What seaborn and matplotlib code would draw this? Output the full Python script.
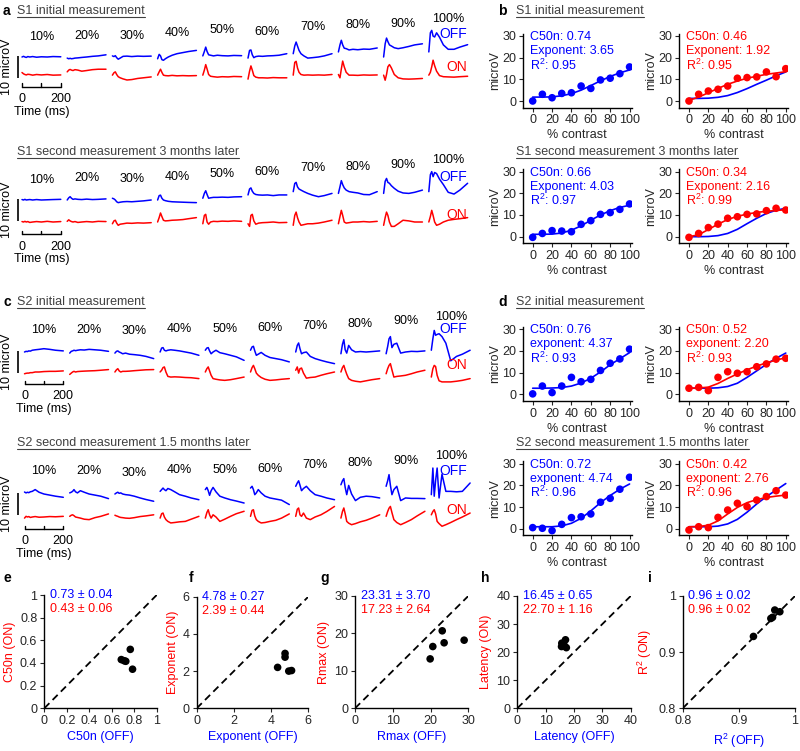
import numpy as np
import pandas as pd
import matplotlib
matplotlib.use('Agg')
import matplotlib.pyplot as plt
import seaborn as sns
from matplotlib.lines import Line2D

sns.set_theme(style='white')
plt.rcParams['font.family'] = ['Liberation Sans', 'DejaVu Sans']
plt.rcParams['mathtext.fontset'] = 'custom'
plt.rcParams['mathtext.rm'] = 'Liberation Sans'
plt.rcParams['mathtext.it'] = 'Liberation Sans:italic'
plt.rcParams['mathtext.bf'] = 'Liberation Sans:bold'
plt.rcParams['axes.edgecolor'] = 'black'
plt.rcParams['text.color'] = '#262626'

# ---------------------------------------------------------------- data
CONTRAST_LABELS = ['10%', '20%', '30%', '40%', '50%', '60%', '70%', '80%', '90%', '100%']
TRACE_T = [0, 8, 15, 22, 30, 40, 55, 75, 100, 130, 160, 200]   # ms

S1A_TR_OFF = [
    [0, 0.3, 0, -0.2, 0.2, 0, 0.2, -0.1, 0.1, 0, 0.2, 0.1],
    [-0.5, -0.8, -0.6, -0.8, -0.7, -0.5, -0.4, -0.2, 0.0, 0.3, 0.5, 1.0],
    [0.5, 0.2, 0.6, -0.3, -1.0, -0.5, 0.3, 0.4, 0.2, 0.4, 0.3, 0.4],
    [-0.8, 1.2, 0.5, -1.2, -1.5, -0.8, 0, 0.8, 1.5, 2.0, 2.5, 3.0],
    [0.5, 2.5, 4.5, 2.5, 1.0, 0.8, 0.5, 0.8, 0.6, 0.5, 0.7, 0.6],
    [-0.5, 3.0, 3.2, 1.0, -0.3, 0.2, 0.4, 0.3, 0.5, 0.6, 0.8, 1.5],
    [1.5, 5.0, 6.8, 5.0, 3.0, 1.5, 0.5, -0.5, -0.3, 0.0, 0.5, 1.5],
    [2.3, 5.5, 7.6, 5.5, 4.0, 3.8, 3.2, 3.5, 3.3, 3.6, 3.5, 4.1],
    [0, 6.0, 8.6, 7.0, 5.5, 5.0, 4.2, 3.8, 4.2, 4.8, 5.5, 6.0],
    [2.3, 11.0, 12.1, 9.5, 9.1, 11.0, 9.0, 5.5, 3.5, 3.5, 4.5, 5.6],
]
S1A_TR_ON = [
    [0.9, 0.3, 0, -0.2, 0.1, 0, -0.3, 0, -0.2, 0, -0.3, -0.2],
    [1.2, 2.0, 2.3, 2.0, 1.8, 2.2, 2.0, 1.5, 1.8, 2.2, 2.4, 2.4],
    [-0.3, 0.8, 1.2, 0, -1.0, -1.5, -2.0, -2.5, -2.3, -1.8, -1.5, -1.1],
    [-0.3, 1.2, 2.4, 1.0, -0.3, -0.5, -0.6, -0.4, -0.6, -0.5, -0.6, -0.5],
    [-0.3, 2.0, 4.5, 2.5, 0, -0.8, -1.0, -1.2, -1.0, -1.1, -0.9, -1.0],
    [-2.1, 1.5, 3.9, 2.0, -0.5, -1.2, -1.5, -1.5, -1.6, -1.4, -1.5, -1.5],
    [-0.3, 5.5, 6.0, 3.0, 1.0, 0, -0.3, -0.2, -0.3, -0.2, -0.3, 0],
    [0, -1.5, 2.5, 6.1, 3.5, 1.0, -0.3, -0.3, -0.4, -0.2, -0.3, -0.2],
    [-0.3, -2.6, 0, 3.5, 4.5, 3.0, 0, -1.5, -2.0, -2.1, -2.0, -1.8],
    [-0.3, 1.0, 3.5, 6.5, 4.0, 1.5, -0.5, -1.0, -1.1, -1.2, -1.0, -0.8],
]
S1B_TR_OFF = [
    [0.2, 0, 0.3, 0, 0.1, 0.2, 0, 0.2, 0, 0.1, 0.2, 0.3],
    [0, 1.0, 1.5, 0.8, 0.3, 0.5, 0.3, 0.2, 0.4, 0.2, 0.3, 0.5],
    [0.8, 0.5, 0, -0.8, -1.2, -1.0, -0.8, -0.7, -0.8, -0.6, -0.4, 0],
    [0, 2.0, 2.2, 0.8, 0, -0.3, -0.6, -0.8, -0.9, -1.0, -1.1, -1.2],
    [0.8, 3.0, 4.2, 2.5, 0.8, 1.0, 1.2, 1.2, 1.3, 1.2, 1.4, 1.5],
    [2.3, 5.0, 5.5, 4.0, 3.0, 2.5, 2.3, 2.2, 2.3, 2.0, 2.3, 2.3],
    [3.8, 7.5, 8.0, 6.0, 5.0, 4.5, 3.8, 3.0, 2.2, 1.5, 2.0, 3.0],
    [3.0, 6.0, 8.8, 7.0, 5.5, 4.5, 3.8, 3.5, 3.2, 2.5, 2.4, 3.8],
    [3.0, 8.5, 9.8, 8.0, 7.6, 6.5, 5.3, 4.0, 3.2, 3.0, 3.5, 4.5],
    [3.8, 11.5, 12.9, 10.6, 12.5, 12.0, 9.5, 7.0, 3.5, 2.7, 4.5, 7.6],
]
S1B_TR_ON = [
    [0.2, 0, 0.3, 0, 0.2, -0.2, 0, 0.2, 0, 0.3, 0, 0.2],
    [0.3, 1.0, 0.5, 0.2, 0, 0.2, -0.2, 0, 0.2, 0, 0.3, 0.2],
    [-0.8, 0.5, 0.8, -0.5, -1.5, -1.0, -0.8, -0.5, -0.6, -0.4, -0.5, -0.3],
    [0, 2.0, 4.1, 2.5, 0.8, 0.5, 0.6, 0.8, 0.9, 1.1, 1.5, 2.0],
    [-0.8, 3.0, 3.5, 0, -1.0, 0, 0.3, 0.2, 0.4, 0.3, 0.5, 0.3],
    [-0.8, -2.0, 3.0, 3.5, 0.5, -1.0, -0.5, -0.3, -0.2, 0, -0.3, -0.2],
    [-1.5, 3.0, 4.5, 2.0, 0, -1.5, -1.2, -0.8, -0.8, -0.5, 0, 0.8],
    [-0.8, 2.5, 5.3, 3.0, 0, -0.5, -0.3, 0, 0, 0.2, 0, 0.3],
    [-1.5, 2.0, 4.5, 3.0, 0, -2.0, -2.0, -0.8, 0.8, 0.5, 0, 0],
    [0, 2.5, 5.3, 3.0, 0, -1.5, -1.0, 0, 0.8, 1.2, 1.5, 2.0],
]
S2A_TR_OFF = [
    [0, 0.3, 0.2, 0.5, 0.4, 0.8, 1.0, 1.2, 1.5, 1.2, 0.8, 0.5],
    [-0.5, 0.3, 0.5, 0.8, 0.6, 0.8, 1.0, 0.9, 1.2, 1.0, 0.8, 0.3],
    [-0.5, 0.3, 0.5, 0, -0.3, -0.8, -0.5, -1.0, -1.2, -1.5, -2.0, -3.0],
    [0, 1.8, 2.0, 0.8, 0.5, 0.8, 1.0, 0.8, 0.5, 0, -0.5, -1.5],
    [0.8, 1.8, 2.0, 0.5, -0.8, 0, 0.8, -0.3, -0.8, -1.5, -2.2, -3.8],
    [0.8, 2.3, 2.6, 0.5, -1.5, -1.0, -0.2, -1.5, -2.5, -3.0, -3.5, -4.5],
    [0, 3.0, 4.1, 1.5, -0.8, -0.3, 0, -2.0, -3.0, -3.8, -4.5, -5.3],
    [-0.8, 3.5, 5.6, 1.0, -0.5, 3.0, 1.0, 0, 0.2, 0, 0.2, 0.5],
    [-0.8, 2.5, 6.0, 7.0, 2.0, 3.5, 4.0, -0.5, 0, 0.3, 0.2, 0.5],
    [0.8, 6.0, 9.8, 7.6, 8.0, 8.3, 7.0, 4.0, -4.0, -2.0, -1.0, 0.8],
]
S2A_TR_ON = [
    [-0.8, -0.6, -0.5, -0.5, -0.3, -0.3, 0, 0, 0.2, 0.3, 0.3, 0.5],
    [-1.1, -0.5, 0, 0.3, 0, 0.2, 0.3, 0.4, 0.5, 0.6, 0.8, 1.1],
    [0, 1.0, 1.5, 0.5, 0, 0.3, 0.3, 0.4, 0.6, 0.8, 1.0, 1.1],
    [0, 0.8, 2.0, 2.3, 0, -2.0, -2.3, -2.2, -2.3, -2.5, -2.6, -3.0],
    [0, 1.5, 2.3, 0.5, -1.5, -3.0, -3.3, -3.6, -3.8, -3.5, -3.0, -2.3],
    [0, 2.0, 3.0, 1.5, -0.5, -1.5, -2.5, -3.3, -3.8, -3.6, -3.3, -3.0],
    [0.8, 2.3, -0.5, 1.5, 1.8, -0.5, -2.8, -2.5, -2.3, -1.5, -0.8, 0],
    [0, 2.0, 3.0, 1.0, -1.0, -3.0, -3.8, -4.2, -4.5, -4.0, -3.5, -3.0],
    [-0.8, 1.5, 3.0, 3.8, 1.0, -2.3, -2.0, -1.8, -1.5, -0.8, 0, 0.8],
    [-2.3, 1.5, 3.0, 2.5, -1.5, -4.0, -4.5, -4.5, -4.5, -4.2, -3.8, -3.0],
]
S2B_TR_OFF = [
    [0.9, 0.5, 0.8, 0.6, 1.0, 1.2, 2.0, 0.8, 0, -0.5, -1.0, -1.5],
    [0.5, 0.8, 1.2, 2.0, 1.0, 0.5, 1.5, 0.8, 0, -0.5, -1.0, -2.1],
    [0, 0.5, 0.8, 0.3, 0.5, 0, -0.3, -0.5, -1.0, -1.8, -2.5, -3.3],
    [1.2, 2.0, 2.7, 2.0, 1.5, 2.5, 2.0, 1.0, -0.3, -1.0, -1.8, -2.6],
    [2.0, 3.0, 1.5, -0.6, 1.5, 3.0, 1.0, -1.0, -1.8, -2.6, -3.2, -4.1],
    [2.7, 3.5, 2.0, -0.3, 0.5, 2.0, 0.5, -1.0, -1.8, -2.3, -2.8, -4.8],
    [3.5, 5.0, 6.0, 4.0, 1.5, 2.5, 3.5, 1.5, -0.3, -1.0, -1.8, -2.6],
    [4.2, 6.0, 7.0, 3.0, -0.3, 3.9, 0, -3.0, -1.5, -1.0, -1.2, -1.8],
    [3.5, 6.0, 8.8, 4.0, -0.3, 2.0, 3.5, -3.0, -1.8, -2.0, -2.0, -2.1],
    [-0.3, 11.8, -1.0, 6.0, 11.8, -1.8, 9.0, 1.2, 1.2, 1.0, 1.2, 5.0],
]
S2B_TR_ON = [
    [-0.5, 0.3, 0, 0.2, -0.2, 0, 0.2, -0.1, 0, 0.2, 0.1, 0.3],
    [0.3, 0.8, 1.0, 0.6, 0, -0.2, -0.5, -1.0, -1.2, -0.3, 0.3, 1.4],
    [0.8, 0.5, 0.3, 0, -0.2, -0.3, -0.5, -0.6, -0.3, 0.2, 0.5, 1.0],
    [-0.5, 1.5, 1.8, 0, -1.2, -2.0, -2.7, -2.5, -2.2, -2.0, -1.0, 0.3],
    [-0.5, 2.0, 3.3, 1.0, -0.5, 1.0, 0, -2.0, -1.0, 0.3, 1.5, 2.6],
    [0.3, 3.0, 3.3, 0.5, -1.2, -2.0, -2.7, -2.5, -2.0, -1.5, -0.5, 1.4],
    [0.3, 3.5, 4.1, 1.0, 0.3, 1.8, -0.5, -1.2, 0, 1.0, 2.5, 4.8],
    [-0.5, 2.5, 4.1, 1.5, -2.0, -2.8, -3.5, -3.0, -2.2, -1.5, -0.5, 1.0],
    [0.3, 2.5, 4.0, 4.8, 2.0, -1.2, -2.5, -3.5, -2.5, -1.2, 0.5, 2.6],
    [1.0, 2.5, 3.3, 1.5, -2.0, -3.0, -4.2, -3.5, -2.5, -1.2, 0, 1.8],
]

CONTRAST = [0, 10, 20, 30, 40, 50, 60, 70, 80, 90, 100]

S1A_OFF_PTS = [0, 3.1, 1.5, 3.5, 3.8, 6.9, 5.8, 9.7, 10.5, 12.6, 15.7]
S1A_OFF_FIT = [1.8, 1.8, 1.9, 2.4, 3.4, 5.0, 7.1, 9.3, 11.3, 13.0, 14.3]
S1A_ON_PTS = [0, 3.1, 4.6, 5.4, 6.9, 10.5, 10.8, 11.1, 13.4, 11.2, 14.9]
S1A_ON_FIT = [0.3, 1.8, 3.8, 5.8, 7.7, 9.2, 10.5, 11.4, 12.3, 12.9, 13.5]
S1A_OFF_FIT_ON = [1.2, 1.2, 1.3, 1.7, 2.5, 3.9, 5.7, 7.7, 9.6, 11.6, 13.4]

S1B_OFF_PTS = [-0.3, 1.5, 2.8, 2.6, 2.3, 5.7, 7.4, 10.3, 11.1, 12.6, 15.1]
S1B_OFF_FIT = [1.1, 1.1, 1.2, 1.7, 3.0, 5.0, 7.6, 10.0, 12.0, 13.5, 14.5]
S1B_ON_PTS = [-0.3, 1.5, 4.2, 5.8, 8.5, 9.2, 10.3, 10.5, 12.0, 13.1, 12.3]
S1B_ON_FIT = [0, 0.9, 3.3, 5.8, 7.9, 9.4, 10.4, 11.2, 11.7, 12.1, 12.4]
S1B_OFF_FIT_ON = [0, 0, 0.1, 0.5, 1.5, 3.4, 6.0, 8.5, 10.7, 12.2, 13.1]

S2A_OFF_PTS = [0.2, 3.8, 0.8, 3.8, 7.8, 5.8, 6.9, 11.0, 14.3, 16.3, 20.8]
S2A_OFF_FIT = [2.8, 2.8, 2.9, 3.1, 3.8, 5.2, 7.4, 10.3, 13.6, 16.4, 19.2]
S2A_ON_PTS = [2.8, 3.2, 1.7, 7.8, 10.4, 9.7, 10.4, 12.7, 14.0, 16.2, 16.6]
S2A_ON_FIT = [2.8, 2.9, 3.3, 5.0, 7.3, 9.4, 11.3, 13.0, 14.5, 15.8, 16.8]
S2A_OFF_FIT_ON = [2.8, 2.8, 2.8, 3.0, 3.6, 5.1, 7.8, 10.8, 13.8, 16.6, 19.0]

S2B_OFF_PTS = [0.5, 0.2, -0.9, 2.0, 5.1, 5.5, 6.8, 12.2, 14.0, 18.2, 23.7]
S2B_OFF_FIT = [0.9, 0.9, 0.9, 1.3, 2.5, 4.8, 8.2, 12.0, 15.3, 18.2, 20.6]
S2B_ON_PTS = [-0.6, 0.9, 0.5, 5.2, 8.6, 11.7, 10.2, 13.2, 14.8, 17.5, 15.5]
S2B_ON_FIT = [0.9, 1.0, 1.6, 3.6, 6.8, 9.8, 12.0, 13.4, 14.4, 15.0, 15.5]
S2B_OFF_FIT_ON = [0.9, 0.9, 0.9, 1.2, 2.2, 4.3, 7.6, 11.4, 14.8, 17.8, 20.8]

S1A_OFF_TXT = ['C50n: 0.74', 'Exponent: 3.65', 'R$^2$: 0.95']
S1A_ON_TXT = ['C50n: 0.46', 'Exponent: 1.92', 'R$^2$: 0.95']
S1B_OFF_TXT = ['C50n: 0.66', 'Exponent: 4.03', 'R$^2$: 0.97']
S1B_ON_TXT = ['C50n: 0.34', 'Exponent: 2.16', 'R$^2$: 0.99']
S2A_OFF_TXT = ['C50n: 0.76', 'exponent: 4.37', 'R$^2$: 0.93']
S2A_ON_TXT = ['C50n: 0.52', 'exponent: 2.20', 'R$^2$: 0.93']
S2B_OFF_TXT = ['C50n: 0.72', 'exponent: 4.74', 'R$^2$: 0.96']
S2B_ON_TXT = ['C50n: 0.42', 'exponent: 2.76', 'R$^2$: 0.96']

C50N_OFF = [0.685, 0.71, 0.725, 0.765, 0.785]
C50N_ON = [0.43, 0.42, 0.415, 0.52, 0.345]
EXP_OFF = [4.35, 4.75, 4.75, 4.95, 5.1]
EXP_ON = [2.2, 2.75, 2.95, 2.0, 2.03]
RMAX_OFF = [19.9, 20.6, 23.1, 23.6, 28.9]
RMAX_ON = [13.2, 16.5, 20.7, 17.5, 18.2]
LAT_OFF = [15.7, 15.6, 17.0, 17.3, 16.6]
LAT_ON = [23.2, 22.0, 24.4, 21.6, 22.3]
R2_OFF = [0.926, 0.957, 0.960, 0.964, 0.973]
R2_ON = [0.928, 0.960, 0.962, 0.975, 0.972]
SUMMARY_TXT = {
    'c50': ('0.73 ± 0.04', '0.43 ± 0.06'),
    'exp': ('4.78 ± 0.27', '2.39 ± 0.44'),
    'rmax': ('23.31 ± 3.70', '17.23 ± 2.64'),
    'lat': ('16.45 ± 0.65', '22.70 ± 1.16'),
    'r2': ('0.96 ± 0.02', '0.96 ± 0.02'),
}

# ---------------------------------------------------------------- layout helpers
W, H = 800, 751
BLUE, RED = '#0000ff', '#ff0000'
TXT = '#262626'
fig = plt.figure(figsize=(W / 100, H / 100), dpi=100)
fig.patch.set_facecolor('white')


def px_axes(x0, y0, x1, y1):
    return fig.add_axes([x0 / W, 1 - y1 / H, (x1 - x0) / W, (y1 - y0) / H])


def ftext(x, y, s, **kw):
    return fig.text(x / W, 1 - y / H, s, **kw)


headers = []

# ---------------------------------------------------------------- trace blocks
SPACING = 233.0   # ms between trace starts
KPX = 0.194       # px per ms
UVPX = 2.2        # px per microV

blocks = [
    (S1A_TR_OFF, S1A_TR_ON, 57, 74.5, 22.0, 'S1 initial measurement', 11, 'a'),
    (S1B_TR_OFF, S1B_TR_ON, 200, 222, 22.0, 'S1 second measurement 3 months later', 152, None),
    (S2A_TR_OFF, S2A_TR_ON, 352, 372, 24.5, 'S2 initial measurement', 302, 'c'),
    (S2B_TR_OFF, S2B_TR_ON, 494, 517, 24.5, 'S2 second measurement 1.5 months later', 443, None),
]

for off, on, yoff, yon, x0, header, hy, letter in blocks:
    ax = px_axes(0, yoff - 60, 490, yoff + 70)
    ax.set_xlim((0 - x0) / KPX, (490 - x0) / KPX)
    ax.set_ylim(-70 / UVPX, 60 / UVPX)
    ax.axis('off')
    d_on = -(yon - yoff) / UVPX
    rows = []
    for i, lab in enumerate(CONTRAST_LABELS):
        for ch, arr, base in (('OFF', off[i], 0.0), ('ON', on[i], d_on)):
            for t, v in zip(TRACE_T, arr):
                rows.append((t + i * SPACING, v + base, ch, lab))
    df = pd.DataFrame(rows, columns=['t', 'v', 'ch', 'cond'])
    sns.lineplot(data=df, x='t', y='v', hue='ch', units='cond', estimator=None,
                 palette={'OFF': BLUE, 'ON': RED}, lw=1.1, legend=False,
                 sort=False, ax=ax)
    for i, lab in enumerate(CONTRAST_LABELS):
        ax.text(100 + i * SPACING, 0.7 * max(off[i]) + 9.0, lab, ha='center',
                va='center', fontsize=9, color='black')
    t_right = (467 - x0) / KPX
    ax.text(t_right, 10.5, 'OFF', color=BLUE, ha='right', va='center', fontsize=10)
    ax.text(t_right, d_on + 3.3, 'ON', color=RED, ha='right', va='center', fontsize=10)
    # scale bars
    tb = (17.5 - x0) / KPX
    ax.plot([tb, tb], [0.5, -9.5], color='black', lw=1.2, solid_capstyle='butt')
    ax.text((7 - x0) / KPX, -4.5, '10 microV', rotation=90, ha='center',
            va='center', fontsize=9, color='black')
    yb = d_on - 12 / UVPX
    ax.plot([0, 200], [yb, yb], color='black', lw=1.0)
    for xt in (0, 100, 200):
        ax.plot([xt, xt], [yb, yb + 1.4], color='black', lw=1.0)
    ax.text(0, yb - 12.5 / UVPX, '0', ha='center', va='center', fontsize=9, color='black')
    ax.text(200, yb - 12.5 / UVPX, '200', ha='center', va='center', fontsize=9, color='black')
    ax.text(100, yb - 25 / UVPX, 'Time (ms)', ha='center', va='center', fontsize=9,
            color='black')
    headers.append(ftext(17, hy, header, fontsize=9, va='center', ha='left', color='#404040'))
    if letter:
        ftext(3, hy, letter, fontsize=10, fontweight='bold', va='center', ha='left',
              color='black')

# ---------------------------------------------------------------- contrast-response panels
LX0, LX1, RX0, RX1 = 523, 631.5, 679.3, 787.7
PXU = 2.17


def style_axes(ax):
    sns.despine(ax=ax)
    for s in ('left', 'bottom'):
        ax.spines[s].set_color('black')
        ax.spines[s].set_linewidth(1.0)
    ax.tick_params(bottom=True, left=True, direction='out', length=3, width=0.8,
                   labelsize=9, labelcolor=TXT, pad=2)


def small_panel(x0, x1, zero, pts, fit, color, lines, extra_fit=None):
    ax = px_axes(x0, zero - 31 * PXU, x1, zero + 3 * PXU)
    df = pd.DataFrame({'c': CONTRAST, 'pts': pts, 'fit': fit})
    if extra_fit is not None:
        sns.lineplot(x=CONTRAST, y=extra_fit, color=BLUE, lw=1.2, ax=ax)
    sns.lineplot(data=df, x='c', y='fit', color=color, lw=1.2, ax=ax)
    sns.scatterplot(data=df, x='c', y='pts', color=color, s=30, edgecolor='none',
                    ax=ax, zorder=3)
    ax.set_xlim(-10, 102)
    ax.set_ylim(-3, 31)
    ax.set_xticks([0, 20, 40, 60, 80, 100])
    ax.set_yticks([0, 10, 20, 30])
    ax.set_xlabel('% contrast', fontsize=9, color=TXT, labelpad=2)
    ax.set_ylabel('microV', fontsize=9, color=TXT, labelpad=1)
    style_axes(ax)
    for j, s in enumerate(lines):
        ax.text(0.065, 0.955 - j * 0.19, s, transform=ax.transAxes, color=color,
                fontsize=9, va='center', ha='left')
    return ax


panels = [
    (101.0, S1A_OFF_PTS, S1A_OFF_FIT, S1A_OFF_TXT, S1A_ON_PTS, S1A_ON_FIT, S1A_ON_TXT, S1A_OFF_FIT_ON,
     'S1 initial measurement', 11, 'b'),
    (236.7, S1B_OFF_PTS, S1B_OFF_FIT, S1B_OFF_TXT, S1B_ON_PTS, S1B_ON_FIT, S1B_ON_TXT, S1B_OFF_FIT_ON,
     'S1 second measurement 3 months later', 152, None),
    (394.3, S2A_OFF_PTS, S2A_OFF_FIT, S2A_OFF_TXT, S2A_ON_PTS, S2A_ON_FIT, S2A_ON_TXT, S2A_OFF_FIT_ON,
     'S2 initial measurement', 302, 'd'),
    (528.7, S2B_OFF_PTS, S2B_OFF_FIT, S2B_OFF_TXT, S2B_ON_PTS, S2B_ON_FIT, S2B_ON_TXT, S2B_OFF_FIT_ON,
     'S2 second measurement 1.5 months later', 443, None),
]
for zero, op, of, ot, onp, onf, ont, ofo, header, hy, letter in panels:
    small_panel(LX0, LX1, zero, op, of, BLUE, ot)
    small_panel(RX0, RX1, zero, onp, onf, RED, ont, extra_fit=ofo)
    headers.append(ftext(516, hy, header, fontsize=9, va='center', ha='left', color='#404040'))
    if letter:
        ftext(498, hy, letter, fontsize=10, fontweight='bold', va='center', ha='left',
              color='black')

# ---------------------------------------------------------------- summary scatter panels
summary = [
    ((44.3, 595, 156.7, 708.3), C50N_OFF, C50N_ON, (0, 1), [0, 0.2, 0.4, 0.6, 0.8, 1],
     ['0', '0.2', '0.4', '0.6', '0.8', '1'], 'C50n (OFF)', 'C50n (ON)', 'c50', 'e', 4),
    ((196.7, 596.7, 308.3, 708.3), EXP_OFF, EXP_ON, (0, 6), [0, 2, 4, 6],
     ['0', '2', '4', '6'], 'Exponent (OFF)', 'Exponent (ON)', 'exp', 'f', 189),
    ((355, 596, 468.3, 708.3), RMAX_OFF, RMAX_ON, (0, 30), [0, 10, 20, 30],
     ['0', '10', '20', '30'], 'Rmax (OFF)', 'Rmax (ON)', 'rmax', 'g', 320),
    ((517.3, 596, 630.7, 708.3), LAT_OFF, LAT_ON, (0, 40), [0, 10, 20, 30, 40],
     ['0', '10', '20', '30', '40'], 'Latency (OFF)', 'Latency (ON)', 'lat', 'h', 481),
    ((682.7, 596, 795, 708.3), R2_OFF, R2_ON, (0.8, 1.0), [0.8, 0.9, 1.0],
     ['0.8', '0.9', '1'], 'R$^2$ (OFF)', 'R$^2$ (ON)', 'r2', 'i', 648),
]
for box, xs, ys, lim, ticks, tlabels, xl, yl, key, letter, lx in summary:
    ax = px_axes(*box)
    ax.plot(lim, lim, color='black', lw=1.3, ls=(0, (4, 2.5)))
    sns.scatterplot(x=xs, y=ys, color='black', s=30, edgecolor='none', ax=ax, zorder=3)
    ax.set_xlim(lim)
    ax.set_ylim(lim)
    ax.set_xticks(ticks)
    ax.set_xticklabels(tlabels)
    ax.set_yticks(ticks)
    ax.set_yticklabels(tlabels)
    ax.set_xlabel(xl, color=BLUE, fontsize=9, labelpad=3)
    ax.set_ylabel(yl, color=RED, fontsize=9, labelpad=3)
    style_axes(ax)
    t_off, t_on = SUMMARY_TXT[key]
    ax.text(0.05, 1.0, t_off, transform=ax.transAxes, color=BLUE, fontsize=9,
            va='center', ha='left')
    ax.text(0.05, 0.875, t_on, transform=ax.transAxes, color=RED, fontsize=9,
            va='center', ha='left')
    ftext(lx, 578, letter, fontsize=10, fontweight='bold', va='center', ha='left',
          color='black')

# ---------------------------------------------------------------- underline headers
fig.canvas.draw()
renderer = fig.canvas.get_renderer()
for t in headers:
    bb = t.get_window_extent(renderer)
    y = (bb.y0 + 0.5) / H
    fig.add_artist(Line2D([bb.x0 / W, bb.x1 / W], [y, y], transform=fig.transFigure,
                          color='#404040', lw=0.8))

fig.savefig('out.png', dpi=100, facecolor='white')
